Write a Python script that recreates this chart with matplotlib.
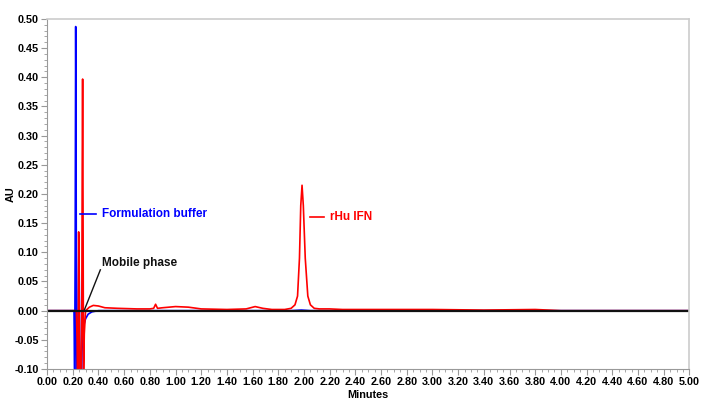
import matplotlib
matplotlib.use("Agg")
import matplotlib.pyplot as plt
from matplotlib.ticker import MultipleLocator, FormatStrFormatter

plt.rcParams['font.family'] = ['Liberation Sans', 'DejaVu Sans']
plt.rcParams['font.weight'] = 'bold'

# formulation buffer trace (minutes, AU)
buffer_t = [0.0, 0.10, 0.20, 0.210, 0.215, 0.219, 0.223, 0.226, 0.229, 0.235,
            0.240, 0.244, 0.248, 0.252, 0.256, 0.262, 0.268, 0.272, 0.278,
            0.29, 0.30, 0.32, 0.35, 0.40, 1.90, 1.98, 2.05, 5.0]
buffer_v = [0.0, 0.0, 0.0, 0.0, -0.11, 0.10, 0.487, 0.30, -0.05, -0.13,
            -0.13, 0.02, 0.13, 0.02, -0.13, -0.15, -0.13, -0.07, -0.04,
            -0.022, -0.014, -0.006, -0.002, 0.0, 0.0, 0.001, 0.0, 0.0]

# rHu IFN sample trace
ifn_t = [0.0, 0.10, 0.20, 0.228, 0.234, 0.238, 0.243, 0.246, 0.250, 0.256,
         0.262, 0.270, 0.274, 0.277, 0.280, 0.284, 0.290, 0.30, 0.33, 0.36,
         0.40, 0.45, 0.55, 0.70, 0.80, 0.83, 0.845, 0.86, 0.90, 1.00, 1.10,
         1.20, 1.40, 1.55, 1.62, 1.68, 1.75, 1.85, 1.90, 1.93, 1.95, 1.965,
         1.975, 1.985, 1.995, 2.01, 2.03, 2.05, 2.08, 2.12, 2.20, 2.30, 2.60,
         3.00, 3.40, 3.80, 4.00, 5.0]
ifn_v = [0.0, 0.0, 0.0, 0.0, -0.05, -0.13, -0.05, 0.135, 0.03, -0.12,
         -0.13, -0.04, 0.25, 0.397, 0.20, -0.12, -0.04, 0.0, 0.006, 0.009,
         0.008, 0.005, 0.004, 0.003, 0.003, 0.004, 0.011, 0.004, 0.005, 0.007, 0.006,
         0.003, 0.002, 0.003, 0.007, 0.004, 0.002, 0.002, 0.004, 0.010, 0.025, 0.09,
         0.18, 0.215, 0.18, 0.09, 0.025, 0.010, 0.004, 0.003, 0.003, 0.002, 0.002,
         0.002, 0.001, 0.002, 0.0, 0.0]

# mobile phase trace
mobile_t = [0.0, 1.0, 2.0, 3.0, 4.0, 5.0]
mobile_v = [0.0, 0.0, 0.0, 0.0, 0.0, 0.0]

fig = plt.figure(figsize=(7.02, 3.99), dpi=100)
ax = fig.add_axes([0.067, 0.0752, 0.9150, 0.8772])

ax.plot(buffer_t, buffer_v, color='#0000ff', lw=1.2)
ax.plot(ifn_t, ifn_v, color='#ff0000', lw=1.2)
ax.plot(mobile_t, mobile_v, color='#111111', lw=1.6)

# labels on the chart
ax.plot([0.254, 0.385], [0.166, 0.166], color='#0000ff', lw=1.2)
ax.text(0.43, 0.166, 'Formulation buffer', color='#0000ff', fontsize=8.5,
        fontweight='bold', va='center')
ax.plot([2.046, 2.154], [0.161, 0.161], color='#ff0000', lw=1.2)
ax.text(2.20, 0.161, 'rHu IFN', color='#ff0000', fontsize=8.5,
        fontweight='bold', va='center')
ax.plot([0.292, 0.415], [0.002, 0.07], color='#111111', lw=1.0)
ax.text(0.43, 0.082, 'Mobile phase', color='#111111', fontsize=8.5,
        fontweight='bold', va='center')

ax.set_xlim(0, 5.0)
ax.set_ylim(-0.10, 0.50)
ax.xaxis.set_major_locator(MultipleLocator(0.2))
ax.xaxis.set_minor_locator(MultipleLocator(0.05))
ax.yaxis.set_major_locator(MultipleLocator(0.05))
ax.yaxis.set_minor_locator(MultipleLocator(0.01))
ax.xaxis.set_major_formatter(FormatStrFormatter('%.2f'))
ax.yaxis.set_major_formatter(FormatStrFormatter('%.2f'))
ax.tick_params(which='major', length=4, color='#999999', labelsize=7.8, pad=2)
ax.tick_params(which='minor', length=2, color='#999999')
for lbl in ax.get_xticklabels() + ax.get_yticklabels():
    lbl.set_fontweight('bold')

for side in ['left', 'bottom']:
    ax.spines[side].set_color('#999999')
for side in ['top', 'right']:
    ax.spines[side].set_color('#cccccc')
    ax.spines[side].set_linewidth(1.2)

ax.set_xlabel('Minutes', fontsize=7.8, fontweight='bold', labelpad=2)
ax.set_ylabel('AU', fontsize=7.8, fontweight='bold')
ax.yaxis.set_label_coords(-0.049, 0.5)

fig.savefig('out.png', dpi=100)
